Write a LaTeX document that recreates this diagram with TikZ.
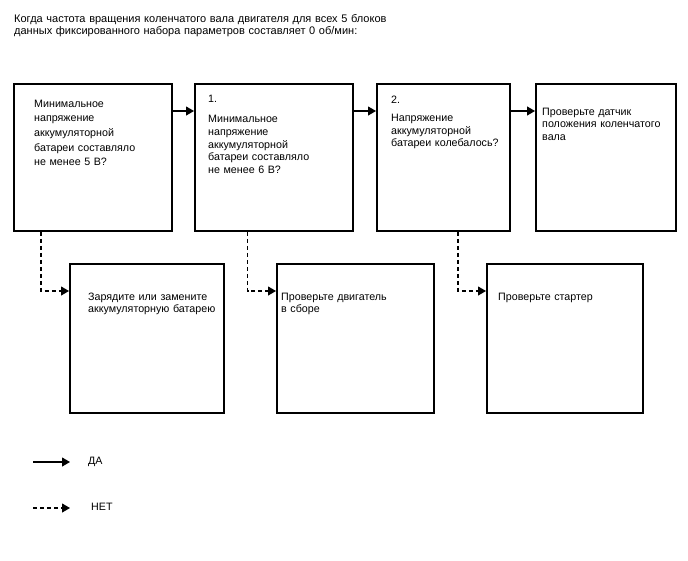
\documentclass[tikz,border=0pt]{standalone}
\usepackage{fontspec}
\setmainfont{Liberation Sans}
\usetikzlibrary{arrows.meta}
\begin{document}
\begin{tikzpicture}[x=1pt,y=-1pt,
  box/.style={draw,line width=1.8pt,minimum width=#1,inner sep=0pt,anchor=north west},
  txt/.style={anchor=base west,inner sep=0pt,align=left,text width=150pt,font=\fontsize{10.7}{#1}\selectfont},
  txt/.default=12.6,
  yes/.style={line width=1.1pt,-{Triangle[length=8pt,width=9pt]}},
  no/.style={line width=1.1pt,dash pattern=on 4pt off 3pt,-{Triangle[length=8pt,width=9pt]}}]
\useasboundingbox (0,0) rectangle (688,560);
% title
\node[anchor=base west,inner sep=0pt,align=left,text width=450pt,font=\fontsize{11}{11.6}\selectfont] (title) at (14,22.7) {Когда частота вращения коленчатого вала двигателя для всех 5 блоков\\данных фиксированного набора параметров составляет 0 об/мин:};
% top boxes
\node[box=158pt,minimum height=147pt] (b1) at (13,83) {};
\node[box=158pt,minimum height=147pt] (b2) at (194,83) {};
\node[box=133pt,minimum height=147pt] (b3) at (376,83) {};
\node[box=140pt,minimum height=147pt] (b4) at (535,83) {};
% bottom boxes
\node[box=154pt,minimum height=149pt] (b5) at (69,263) {};
\node[box=157pt,minimum height=149pt] (b6) at (276,263) {};
\node[box=156pt,minimum height=149pt] (b7) at (486,263) {};
% texts
\node[txt=14.7] (t1) at (34,107) {Минимальное\\напряжение\\аккумуляторной\\батареи составляло\\не менее 5 В?};
\node[txt] (n2) at (208,102.3) {1.};
\node[txt=12.75] (t2) at (208,122.7) {Минимальное\\напряжение\\аккумуляторной\\батареи составляло\\не менее 6 В?};
\node[txt] (n3) at (391,103.3) {2.};
\node[txt] (t3) at (391,121.7) {Напряжение\\аккумуляторной\\батареи колебалось?};
\node[txt] (t4) at (542,115) {Проверьте датчик\\положения коленчатого\\вала};
\node[txt=12] (t5) at (88,300) {Зарядите или замените\\аккумуляторную батарею};
\node[txt=12] (t6) at (281,300) {Проверьте двигатель\\в сборе};
\node[txt] (t7) at (498,300) {Проверьте стартер};
% yes connectors
\draw[yes] ([yshift=-28pt]b1.north east) -- ([yshift=-28pt]b2.north west);
\draw[yes] ([yshift=-28pt]b2.north east) -- ([yshift=-28pt]b3.north west);
\draw[yes] ([yshift=-28pt]b3.north east) -- ([yshift=-28pt]b4.north west);
% no connectors
\draw[no] ([xshift=28pt]b1.south west) |- ([yshift=-28pt]b5.north west);
\draw[no] ([xshift=53.5pt]b2.south west) |- ([yshift=-28pt]b6.north west);
\draw[no] ([xshift=82pt]b3.south west) |- ([yshift=-28pt]b7.north west);
% legend
\coordinate (ya) at (33,462);
\coordinate (yb) at (70,462);
\coordinate (na) at (33,508);
\coordinate (nb) at (70,508);
\draw[yes] (ya) -- (yb);
\draw[no] (na) -- (nb);
\node[anchor=west,inner sep=0pt,font=\fontsize{10.7}{12}\selectfont] (ly) at (88,462) {ДА};
\node[anchor=west,inner sep=0pt,font=\fontsize{10.7}{12}\selectfont] (ln) at (91,507) {НЕТ};
\end{tikzpicture}
\end{document}
